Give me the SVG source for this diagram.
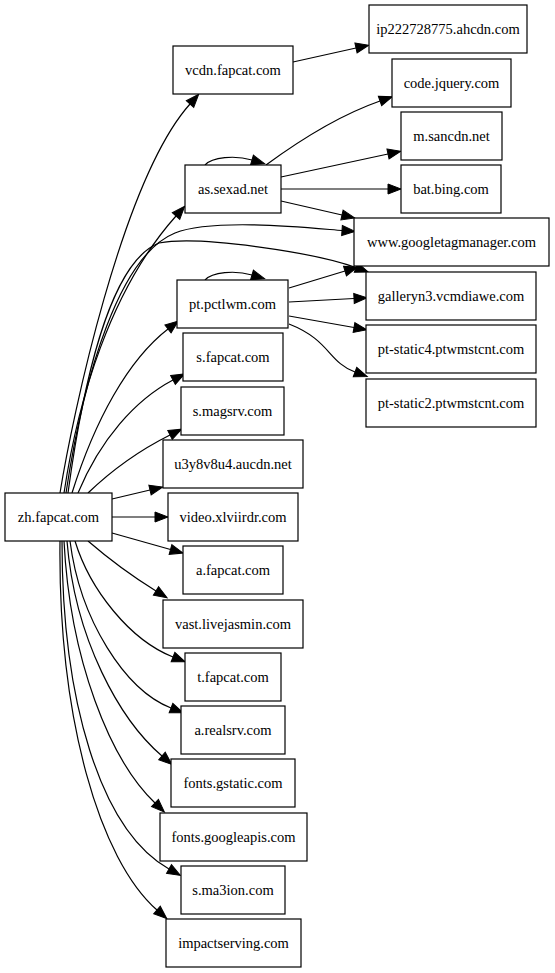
<svg xmlns="http://www.w3.org/2000/svg" width="555" height="973" viewBox="0 0 555 973">
<style>
.n rect{fill:#fff;stroke:#000;stroke-width:1.2}
.n text{font-family:"Liberation Serif","Times New Roman",serif;font-size:14.5px;text-anchor:middle;fill:#000}
.e path{fill:none;stroke:#000;stroke-width:1.2;marker-end:url(#ah)}
</style>
<defs>
<marker id="ah" markerUnits="userSpaceOnUse" markerWidth="14" markerHeight="12" refX="0" refY="5" orient="auto" overflow="visible">
<polygon points="0,0 13,5 0,10" fill="#000" stroke="#000" stroke-width="1"/>
</marker>
</defs>
<rect width="555" height="973" fill="#fff"/>
<g id="edges" class="e">
<path d="M60,493 C72,418 122,180 190,104"/>
<path d="M293,62 L356,48"/>
<path d="M64,493 C78,400 110,290 176,216"/>
<path d="M205,165 C212,157 235,155 252,160"/>
<path d="M266,165 C300,140 340,115 380,101"/>
<path d="M281,177 L388,154"/>
<path d="M281,189 L388,189"/>
<path d="M281,201 L342,215"/>
<path d="M66,493 C84,373 120,255 175,233 C215,217 320,229 342,230.5"/>
<path d="M68,493 C83,383 110,262 159,243 C200,235 316,253 356,267.6"/>
<path d="M72,493 C95,420 128,360 168,329"/>
<path d="M205,280 C212,272 235,270 252,275"/>
<path d="M289,288 L345,271"/>
<path d="M289,302 L354,298.5"/>
<path d="M289,316 L354,327.5"/>
<path d="M289,324 C330,340 328,362 355,372"/>
<path d="M78,493 C100,440 135,400 173,380"/>
<path d="M88,493 C112,470 140,450 170,435"/>
<path d="M112,499 L150,490"/>
<path d="M112,517 L155,517"/>
<path d="M112,533 L170.5,549.5"/>
<path d="M88,541 C110,560 135,578 156,591"/>
<path d="M75,541 C90,590 130,640 173,657"/>
<path d="M70,541 C80,620 125,690 171,708"/>
<path d="M67,541 C75,640 120,720 162,756"/>
<path d="M64,541 C70,660 110,760 155,803"/>
<path d="M62,541 C62,700 100,830 169,869"/>
<path d="M60,541 C58,720 100,860 157,910"/>
</g>
<g id="ip222728775" class="n"><rect x="369" y="5" width="158" height="48"/><text x="448" y="34">ip222728775.ahcdn.com</text></g>
<g id="vcdn" class="n"><rect x="173" y="46" width="120" height="48"/><text x="233" y="75">vcdn.fapcat.com</text></g>
<g id="codejquery" class="n"><rect x="392" y="59" width="119" height="48"/><text x="451.5" y="88">code.jquery.com</text></g>
<g id="msancdn" class="n"><rect x="401" y="112" width="101" height="48"/><text x="451.5" y="141">m.sancdn.net</text></g>
<g id="assexad" class="n"><rect x="185" y="165" width="96" height="48"/><text x="233" y="194">as.sexad.net</text></g>
<g id="batbing" class="n"><rect x="401" y="165" width="100" height="48"/><text x="451" y="194">bat.bing.com</text></g>
<g id="gtm" class="n"><rect x="354" y="218" width="195" height="48"/><text x="451.5" y="247">www.googletagmanager.com</text></g>
<g id="galleryn3" class="n"><rect x="366" y="272" width="170" height="48"/><text x="451" y="301">galleryn3.vcmdiawe.com</text></g>
<g id="ptpctlwm" class="n"><rect x="177" y="280" width="111" height="48"/><text x="232.5" y="309">pt.pctlwm.com</text></g>
<g id="ptstatic4" class="n"><rect x="366" y="325" width="170" height="48"/><text x="451" y="354">pt-static4.ptwmstcnt.com</text></g>
<g id="ptstatic2" class="n"><rect x="366" y="379" width="170" height="48"/><text x="451" y="408">pt-static2.ptwmstcnt.com</text></g>
<g id="sfapcat" class="n"><rect x="183" y="333" width="100" height="48"/><text x="233" y="362">s.fapcat.com</text></g>
<g id="smagsrv" class="n"><rect x="181" y="387" width="103" height="48"/><text x="232.5" y="416">s.magsrv.com</text></g>
<g id="u3y8v8u4" class="n"><rect x="163" y="440" width="140" height="48"/><text x="233" y="469">u3y8v8u4.aucdn.net</text></g>
<g id="zhfapcat" class="n"><rect x="5" y="493" width="107" height="48"/><text x="58.5" y="522">zh.fapcat.com</text></g>
<g id="video" class="n"><rect x="168" y="493" width="130" height="48"/><text x="233" y="522">video.xlviirdr.com</text></g>
<g id="afapcat" class="n"><rect x="183" y="546" width="100" height="48"/><text x="233" y="575">a.fapcat.com</text></g>
<g id="vast" class="n"><rect x="163" y="600" width="140" height="48"/><text x="233" y="629">vast.livejasmin.com</text></g>
<g id="tfapcat" class="n"><rect x="185" y="653" width="96" height="48"/><text x="233" y="682">t.fapcat.com</text></g>
<g id="arealsrv" class="n"><rect x="181" y="706" width="104" height="48"/><text x="233" y="735">a.realsrv.com</text></g>
<g id="fontsgstatic" class="n"><rect x="171" y="759" width="124" height="48"/><text x="233" y="788">fonts.gstatic.com</text></g>
<g id="fontsgoogleapis" class="n"><rect x="160" y="813" width="147" height="48"/><text x="233.5" y="842">fonts.googleapis.com</text></g>
<g id="sma3ion" class="n"><rect x="181" y="866" width="104" height="48"/><text x="233" y="895">s.ma3ion.com</text></g>
<g id="impactserving" class="n"><rect x="166" y="919" width="135" height="48"/><text x="233.5" y="948">impactserving.com</text></g>
</svg>
